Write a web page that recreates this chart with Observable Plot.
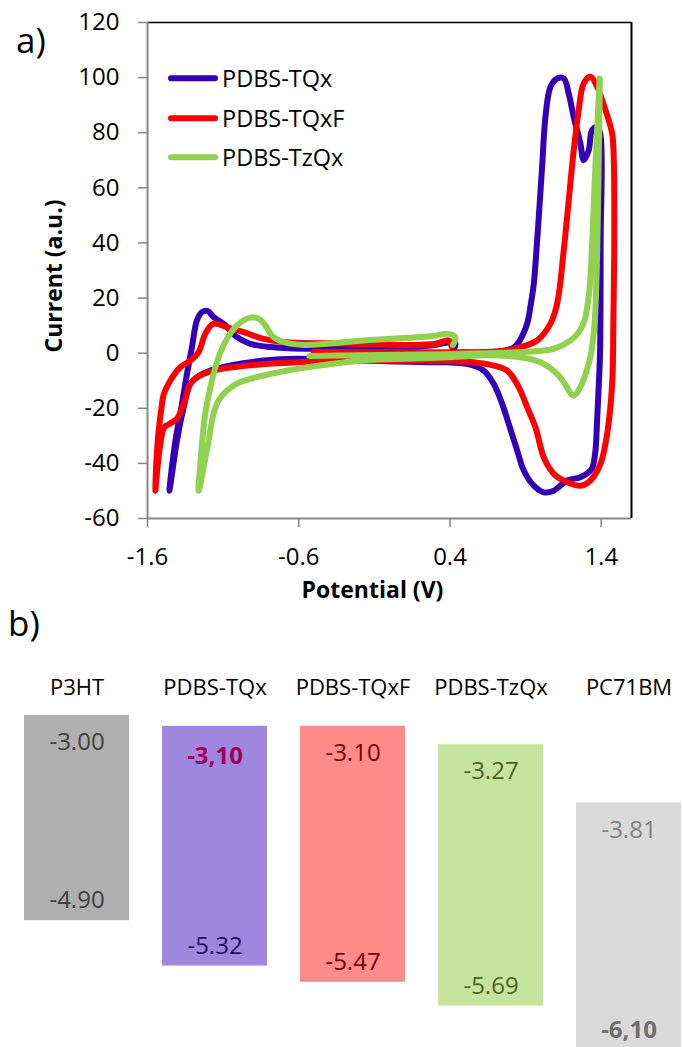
<!DOCTYPE html>
<html><head><meta charset="utf-8">
<script src="https://cdn.jsdelivr.net/npm/d3@7"></script>
<script src="https://cdn.jsdelivr.net/npm/@observablehq/plot@0.6"></script>
<style>
html,body{margin:0;padding:0;background:#fff;overflow:hidden}
#page{position:relative;width:683px;height:1047px;font-family:"Open Sans",sans-serif;background:#fff}
#a,#b{position:absolute;left:0}
#a{top:0px}
#b{top:600px}
#overlay{position:absolute;left:0;top:0;pointer-events:none}
</style></head>
<body><div id="page"><div id="a"></div><div id="b"></div>
<svg id="overlay" width="683" height="1047"></svg></div>
<script>
// ---------- Panel a: cyclic voltammetry ----------
const seriesNames = ["PDBS-TQx", "PDBS-TQxF", "PDBS-TzQx"];
const seriesColors = ["#3300B8", "#FF0000", "#92D050"];

const xTicks = [-1.6, -0.6, 0.4, 1.4];
const xTickLabels = ["-1.6", "-0.6", "0.4", "1.4"];
const yTicks = [-60, -40, -20, 0, 20, 40, 60, 80, 100, 120];
const yTickLabels = ["-60", "-40", "-20", "0", "20", "40", "60", "80", "100", "120"];

// PDBS-TQx (potential V, current a.u.) in scan order
const tqxV = [-0.50, 0.00, 0.50, 0.75, 0.82, 0.86, 0.91, 0.935, 0.954, 0.975, 0.987, 1.009, 1.031, 1.064, 1.108, 1.152, 1.185, 1.218, 1.262, 1.284, 1.317, 1.339, 1.37, 1.392, 1.396, 1.392, 1.384, 1.372, 1.362, 1.345, 1.329, 1.262, 1.174, 1.086, 1.02, 0.954, 0.888, 0.844, 0.788, 0.745, 0.689, 0.623, 0.513, 0.38, 0.27, -0.17, -0.611, -0.832, -1.052, -1.185, -1.273, -1.317, -1.361, -1.405, -1.438, -1.455, -1.44, -1.41, -1.383, -1.339, -1.306, -1.273, -1.24, -1.202, -1.163, -1.085, -1.008, -0.92, -0.788, -0.567, -0.2, 0.1, 0.3, 0.403, 0.436, 0.42];
const tqxI = [0.5, 0.3, 0.2, 0.8, 2.0, 4.5, 10.7, 18, 25.2, 40, 49.4, 67.6, 85.7, 96.6, 99.7, 99.7, 94.2, 85.7, 76.1, 70.0, 73.6, 80.9, 82, 80, 40, 0, -11.1, -25, -35.3, -41, -42.6, -45, -46.2, -49.9, -50.5, -48.1, -42.6, -35.3, -25.6, -18.4, -11.1, -6.3, -3.9, -3.3, -3.3, -2.7, -2.0, -2.7, -4.5, -6.3, -8.7, -11.1, -19.6, -31.7, -43.8, -49.9, -42, -30, -22, -7.5, 2.2, 11.9, 14.9, 15.3, 13.1, 10.1, 5.8, 3.4, 2.2, 1.6, 1.8, 2.3, 3.0, 4.0, 3.5, 1.0];

// PDBS-TQxF
const tqxfV = [-0.50, 0.00, 0.50, 0.75, 0.866, 0.976, 1.064, 1.108, 1.152, 1.185, 1.218, 1.251, 1.284, 1.329, 1.373, 1.428, 1.472, 1.483, 1.486, 1.48, 1.472, 1.439, 1.395, 1.329, 1.262, 1.13, 1.086, 1.02, 0.965, 0.91, 0.855, 0.777, 0.645, 0.49, 0.3, -0.17, -0.611, -0.942, -1.163, -1.273, -1.317, -1.361, -1.405, -1.45, -1.49, -1.52, -1.54, -1.548, -1.54, -1.526, -1.508, -1.493, -1.449, -1.383, -1.317, -1.262, -1.218, -1.163, -1.074, -0.964, -0.832, -0.677, -0.3, 0.1, 0.3, 0.391, 0.41];
const tqxfI = [0.5, 0.3, 0.3, 0.8, 2.2, 4.6, 10.7, 17.9, 37.3, 55.5, 73.6, 88.2, 97.9, 100.3, 96.6, 88.2, 79.7, 70.0, 37, 10, -11.1, -29.3, -40.2, -46.2, -48.1, -45.6, -43.8, -37.8, -26.9, -19.6, -12.4, -6.3, -4.0, -3.0, -2.8, -2.7, -3.3, -4.5, -6.3, -8.7, -11.1, -18.4, -23.8, -25.5, -27, -35, -45, -49.9, -38, -28.1, -20, -15, -9.9, -5.1, -2.7, 0.4, 7.0, 10.7, 9.4, 7.6, 5.2, 4.0, 3.5, 3.0, 3.3, 4.6, 2.5];

// PDBS-TzQx
const tzqxV = [-0.53, -0.2, 0.2, 0.6, 0.866, 1.086, 1.196, 1.25, 1.29, 1.32, 1.34, 1.355, 1.372, 1.385, 1.39, 1.386, 1.379, 1.37, 1.355, 1.33, 1.30, 1.26, 1.218, 1.19, 1.174, 1.108, 0.998, 0.866, 0.645, 0.4, 0.0, -0.17, -0.4, -0.611, -0.832, -0.986, -1.074, -1.13, -1.163, -1.196, -1.229, -1.262, -1.251, -1.218, -1.174, -1.13, -1.074, -1.008, -0.92, -0.865, -0.821, -0.777, -0.722, -0.567, -0.17, 0.27, 0.391, 0.436, 0.42];
const tzqxI = [-1.0, -0.8, -0.5, 0.0, 0.4, 1.6, 4.6, 7.5, 12, 22, 40, 60, 80, 95, 99.7, 80, 55, 30, 10, -1, -7, -12.5, -15.4, -14, -12.4, -7.5, -3.3, -1.5, -0.8, -1.5, -2.2, -2.7, -4.0, -5.7, -8.1, -10.5, -13.5, -17.2, -22, -31.7, -41.4, -49.9, -40.2, -22, -9.9, -1.5, 5.2, 10.1, 12.9, 12.5, 10.1, 6.4, 4.4, 3.0, 4.6, 6.1, 7.0, 5.8, 3.0];

const seriesV = [tqxV, tqxfV, tzqxV];
const seriesI = [tqxI, tqxfI, tzqxI];

// ---------- Panel b: energy levels ----------
const materials = ["P3HT", "PDBS-TQx", "PDBS-TQxF", "PDBS-TzQx", "PC71BM"];
const lumo = [-3.00, -3.10, -3.10, -3.27, -3.81];
const homo = [-4.90, -5.32, -5.47, -5.69, -6.10];
const lumoLabels = ["-3.00", "-3,10", "-3.10", "-3.27", "-3.81"];
const homoLabels = ["-4.90", "-5.32", "-5.47", "-5.69", "-6,10"];
const barColors = ["#AFAFAF", "#9F87DF", "#FF8B8B", "#C5E59F", "#DADADA"];
const lumoLabelColors = ["#404040", "#A0005A", "#7A0000", "#4F6228", "#7F7F7F"];
const homoLabelColors = ["#404040", "#1E0B5E", "#7A0000", "#4F6228", "#6E6E6E"];
const lumoBold = [false, true, false, false, false];
const homoBold = [false, false, false, false, true];

const font = "'Open Sans', sans-serif";

// Panel a
const cvRows = seriesNames.map((name, k) => seriesV[k].map((v, i) => ({V: v, I: seriesI[k][i], s: name})));

const chartA = Plot.plot({
  width: 683, height: 615,
  marginLeft: 147, marginRight: 52, marginTop: 22, marginBottom: 97,
  x: {domain: [-1.6, 1.6]},
  y: {domain: [-60, 120]},
  style: {fontFamily: font, fontSize: "24px", color: "#000", background: "transparent"},
  marks: [
    Plot.ruleY([120], {stroke: "#000", strokeWidth: 1.5}),
    Plot.ruleX([1.6], {stroke: "#000", strokeWidth: 2}),
    Plot.ruleX([-1.6], {stroke: "#868686", strokeWidth: 2}),
    Plot.ruleY([-60], {stroke: "#868686", strokeWidth: 2}),
    Plot.axisY({ticks: yTicks, tickFormat: d => yTickLabels[yTicks.indexOf(d)], tickSize: 9, tickPadding: 19,
      stroke: "#868686", strokeWidth: 1.5, fill: "#000", fontSize: 24, label: null}),
    Plot.axisX({ticks: xTicks, tickFormat: d => xTickLabels[xTicks.indexOf(d)], tickSize: 9, tickPadding: 20,
      stroke: "#868686", strokeWidth: 1.5, fill: "#000", fontSize: 24, label: null}),
    ...cvRows.map((rows, k) => Plot.line(rows, {x: "V", y: "I", stroke: seriesColors[k], strokeWidth: 6,
      curve: "catmull-rom", strokeLinejoin: "round", strokeLinecap: "round"})),
    Plot.text(["Potential (V)"], {frameAnchor: "bottom", dx: -17, dy: 79, fontWeight: "bold", fontSize: 23, fill: "#000"}),
    Plot.text(["Current (a.u.)"], {frameAnchor: "left", textAnchor: "middle", rotate: -90, dx: -93, dy: 5.5,
      fontWeight: "bold", fontSize: 23, fill: "#000"})
  ]
});
document.getElementById("a").appendChild(chartA);

// Panel b
const levels = materials.map((m, i) => ({
  name: m, lumo: lumo[i], homo: homo[i], color: barColors[i],
  lumoLabel: lumoLabels[i], homoLabel: homoLabels[i],
  lumoColor: lumoLabelColors[i], homoColor: homoLabelColors[i],
  lumoBold: lumoBold[i], homoBold: homoBold[i]
}));

const chartB = Plot.plot({
  width: 683, height: 447,
  marginLeft: 23, marginRight: 0, marginTop: 100, marginBottom: 0,
  x: {domain: materials, paddingInner: 0.236, paddingOuter: 0},
  y: {domain: [-6.074, -2.861], axis: null},
  color: {type: "identity"},
  style: {fontFamily: font, fontSize: "22px", color: "#000", background: "transparent"},
  marks: [
    Plot.barY(levels, {x: "name", y1: "homo", y2: "lumo", fill: "color", clip: true}),
    Plot.axisX({anchor: "top", tickSize: 0, tickPadding: 6, fontSize: 22, fill: "#000", label: null}),
    Plot.text(levels, {filter: d => !d.lumoBold, x: "name", y: "lumo", text: "lumoLabel", fill: "lumoColor", dy: 27, fontSize: 24}),
    Plot.text(levels, {filter: d => d.lumoBold, x: "name", y: "lumo", text: "lumoLabel", fill: "lumoColor", dy: 30, fontSize: 24, fontWeight: "bold"}),
    Plot.text(levels, {filter: d => !d.homoBold, x: "name", y: "homo", text: "homoLabel", fill: "homoColor", dy: -20, fontSize: 24}),
    Plot.text(levels, {filter: d => d.homoBold, x: "name", y: "homo", text: "homoLabel", fill: "homoColor", dy: -20, fontSize: 24, fontWeight: "bold"})
  ]
});
document.getElementById("b").appendChild(chartB);

// Overlay: panel letters and legend
const ov = d3.select("#overlay").style("font-family", font);
ov.append("text").attr("x", 16).attr("y", 53).attr("font-size", 35).attr("fill", "#000").text("a)");
ov.append("text").attr("x", 8).attr("y", 636).attr("font-size", 35).attr("fill", "#000").text("b)");
const legendY = [78.3, 118.3, 157.3];
seriesNames.forEach((name, k) => {
  ov.append("line").attr("x1", 171).attr("x2", 215).attr("y1", legendY[k]).attr("y2", legendY[k])
    .attr("stroke", seriesColors[k]).attr("stroke-width", 6).attr("stroke-linecap", "round");
  ov.append("text").attr("x", 222).attr("y", legendY[k] + 8.4).attr("font-size", 23.5).attr("fill", "#000").text(name);
});
</script>
</body></html>
